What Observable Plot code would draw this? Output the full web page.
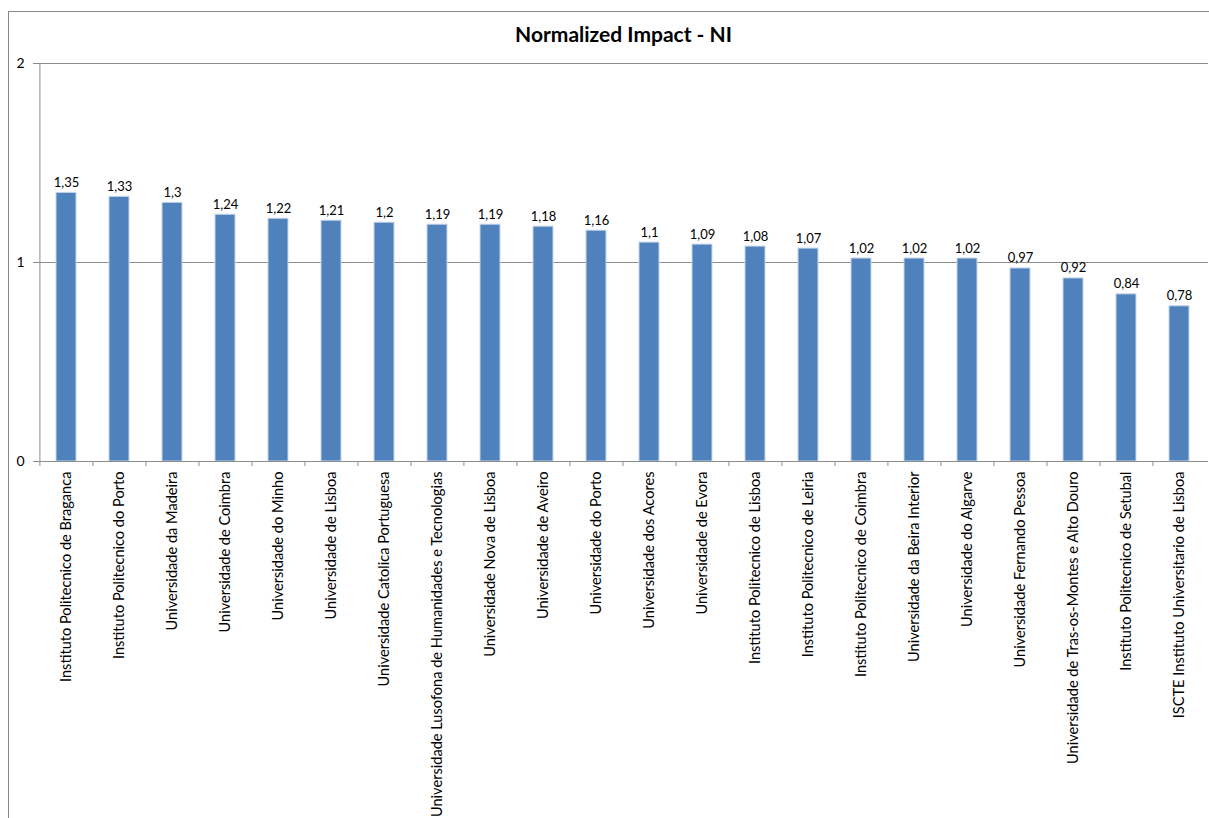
<!DOCTYPE html>
<html>
<head>
<meta charset="utf-8">
<script src="https://cdn.jsdelivr.net/npm/d3@7"></script>
<script src="https://cdn.jsdelivr.net/npm/@observablehq/plot@0.6"></script>
<style>
  html, body { margin: 0; padding: 0; background: #fff; overflow: hidden; }
  #wrap { position: relative; width: 1209px; height: 818px; }
  #border { position: absolute; left: 8px; top: 11px; width: 1400px; height: 1000px; border: 1px solid #888; box-sizing: border-box; }
  #chart { position: absolute; left: 0; top: 0; }
</style>
</head>
<body>
<div id="wrap"><div id="border"></div><div id="chart"></div></div>
<script>
const title = "Normalized Impact - NI";
const institutions = [
  "Instituto Politecnico de Braganca",
  "Instituto Politecnico do Porto",
  "Universidade da Madeira",
  "Universidade de Coimbra",
  "Universidade do Minho",
  "Universidade de Lisboa",
  "Universidade Catolica Portuguesa",
  "Universidade Lusofona de Humanidades e Tecnologias",
  "Universidade Nova de Lisboa",
  "Universidade de Aveiro",
  "Universidade do Porto",
  "Universidade dos Acores",
  "Universidade de Evora",
  "Instituto Politecnico de Lisboa",
  "Instituto Politecnico de Leiria",
  "Instituto Politecnico de Coimbra",
  "Universidade da Beira Interior",
  "Universidade do Algarve",
  "Universidade Fernando Pessoa",
  "Universidade de Tras-os-Montes e Alto Douro",
  "Instituto Politecnico de Setubal",
  "ISCTE Instituto Universitario de Lisboa"
];
const niValues = [1.35, 1.33, 1.3, 1.24, 1.22, 1.21, 1.2, 1.19, 1.19, 1.18, 1.16, 1.1, 1.09, 1.08, 1.07, 1.02, 1.02, 1.02, 0.97, 0.92, 0.84, 0.78];
const yTicks = [0, 1, 2];

const data = institutions.map((name, i) => ({name, value: niValues[i]}));
const fmt = v => String(v).replace(".", ",");

const W = 1209, H = 818;
const mL = 38, mR = 1, mT = 63, mB = 357;
const step = (W - mL - mR) / institutions.length;
const font = "Lato, 'Open Sans', sans-serif";

const plot = Plot.plot({
  width: W,
  height: H,
  marginLeft: mL,
  marginRight: mR,
  marginTop: mT,
  marginBottom: mB,
  style: {fontFamily: font, fontSize: "13px", color: "#000", background: "transparent", overflow: "visible"},
  x: {domain: institutions, paddingInner: 0.62, paddingOuter: 0.31, label: null},
  y: {domain: [0, 2], ticks: yTicks, label: null},
  marks: [
    Plot.ruleY([1, 2], {stroke: "#8c8c8c", strokeWidth: 1}),
    Plot.ruleX([0], {x: () => institutions[0], dx: -step / 2, stroke: "#8c8c8c", y1: 0, y2: 2}),
    Plot.barY(data, {x: "name", y: "value", fill: "#4F81BD", stroke: "#c9d6e8", strokeWidth: 1}),
    Plot.text(data, {x: "name", y: "value", text: d => fmt(d.value), lineAnchor: "bottom", dy: -6, fontSize: 13, fill: "#000"}),
    Plot.ruleY([0], {stroke: "#8c8c8c", strokeWidth: 1}),
    Plot.axisY({ticks: yTicks, tickSize: 5, tickPadding: 9, stroke: "#8c8c8c", fontSize: 14, tickFormat: d => String(d), strokeOpacity: 1}),
    Plot.axisX({tickSize: 5, tickFormat: () => "", dx: -step / 2, stroke: "#8c8c8c", strokeOpacity: 1}),
    Plot.axisX({tickSize: 0, tickPadding: 10, tickRotate: -90, fontSize: 14.6, fill: "#000", textAnchor: "end"}),
    Plot.text([title], {frameAnchor: "top", dy: -28, text: d => d, fontWeight: "bold", fontSize: 21, fill: "#000", lineAnchor: "middle"})
  ]
});
document.getElementById("chart").appendChild(plot);
</script>
</body>
</html>
